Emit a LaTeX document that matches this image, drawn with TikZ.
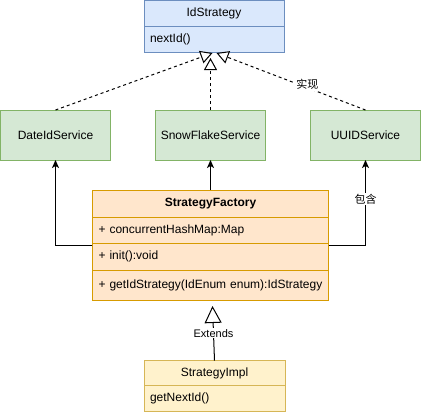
\documentclass[tikz,border=0pt]{standalone}
\usepackage{fontspec}
\setmainfont{Liberation Sans}
\newfontfamily\cjk{Noto Sans CJK SC}
\usepackage{xcolor}
\usepackage{tikz}
\usetikzlibrary{positioning,fit,arrows.meta}
\definecolor{IfaceFill}{HTML}{DAE8FC}
\definecolor{IfaceLine}{HTML}{6C8EBF}
\definecolor{ServiceFill}{HTML}{D5E8D4}
\definecolor{ServiceLine}{HTML}{82B366}
\definecolor{FactoryFill}{HTML}{FFE6CC}
\definecolor{FactoryLine}{HTML}{D79B00}
\definecolor{ImplFill}{HTML}{FFF2CC}
\definecolor{ImplLine}{HTML}{D6B656}

\begin{document}
\begin{tikzpicture}[
      x=1pt, y=-1pt,
      node distance=45pt,
      every node/.style={align=center, font=\fontsize{12}{14}\selectfont},
      box/.style={draw, line width=1pt, outer sep=0pt, inner sep=0pt},
      ifacehead/.style={box, draw=IfaceLine, fill=IfaceFill, minimum width=140pt, minimum height=26pt},
      ifacerow/.style={box, draw=IfaceLine, fill=IfaceFill, text width=128pt, inner xsep=6pt, align=left, minimum height=26pt},
      service/.style={box, draw=ServiceLine, fill=ServiceFill, minimum width=110pt, minimum height=50pt},
      facthead/.style={box, draw=FactoryLine, fill=FactoryFill, minimum width=236pt, minimum height=27pt, font=\fontsize{12}{14}\selectfont\bfseries},
      factrow/.style={box, draw=FactoryLine, fill=FactoryFill, text width=224pt, inner xsep=6pt, align=left},
      implhead/.style={box, draw=ImplLine, fill=ImplFill, minimum width=141pt, minimum height=25pt},
      implrow/.style={box, draw=ImplLine, fill=ImplFill, text width=129pt, inner xsep=6pt, align=left, minimum height=26pt},
      arrow/.style={line width=1pt, -{Stealth[length=8pt, width=7pt, inset=2pt]}},
      realize/.style={line width=1pt, dash pattern=on 3pt off 3pt, -{Triangle[open, fill=white, length=12pt, width=13pt]}},
      extends/.style={line width=1pt, -{Triangle[open, fill=white, length=17pt, width=17pt]}},
      lbl/.style={fill=white, inner sep=1pt, font=\fontsize{11}{13}\selectfont}
    ]
      \useasboundingbox (0,0) rectangle (422,416);

      % Interface
      \node[ifacehead] (idhead) at (214,13) {IdStrategy};
      \node[ifacerow, below=0pt of idhead] (idrow) {nextId()};

      % Services
      \node[service] (date) at (55.5,135) {DateIdService};
      \node[service, right=of date] (snow) {SnowFlakeService};
      \node[service, right=of snow] (uuid) {UUIDService};

      % Factory
      \node[facthead] (facthead) at (210.5,203.5) {StrategyFactory};
      \node[factrow, below=0pt of facthead, minimum height=26pt] (factrow1) {+ concurrentHashMap:Map};
      \node[factrow, below=0pt of factrow1, minimum height=27pt] (factrow2) {+ init():void};
      \node[factrow, below=0pt of factrow2, minimum height=30pt] (factrow3) {+ getIdStrategy(IdEnum enum):IdStrategy};
      \node[fit=(facthead)(factrow3), inner sep=0pt] (factory) {};

      % Implementation
      \node[implhead] (implhead) at (214.5,373.2) {StrategyImpl};
      \node[implrow, below=0pt of implhead] (implrow) {getNextId()};

      \draw[realize] (date.north) -- ([shift={(-1.5,1)}]idrow.south);
      \draw[realize] (snow.north) -- ([shift={(-3.5,6)}]idrow.south);
      \draw[realize] (uuid.north) -- node[lbl, pos=0.39, yshift=3pt] {\cjk 实现} ([shift={(2.5,1)}]idrow.south);

      \draw[arrow] (factory.north) -- (snow.south);
      \draw[arrow] (factory.west) -| (date.south);
      \draw[arrow] (factory.east) -| node[lbl, pos=0.77] {\cjk 包含} (uuid.south);

      \draw[extends] (implhead.north) -- node[lbl] {Extends} ([shift={(2,6)}]factrow3.south);

    \end{tikzpicture}
\end{document}
